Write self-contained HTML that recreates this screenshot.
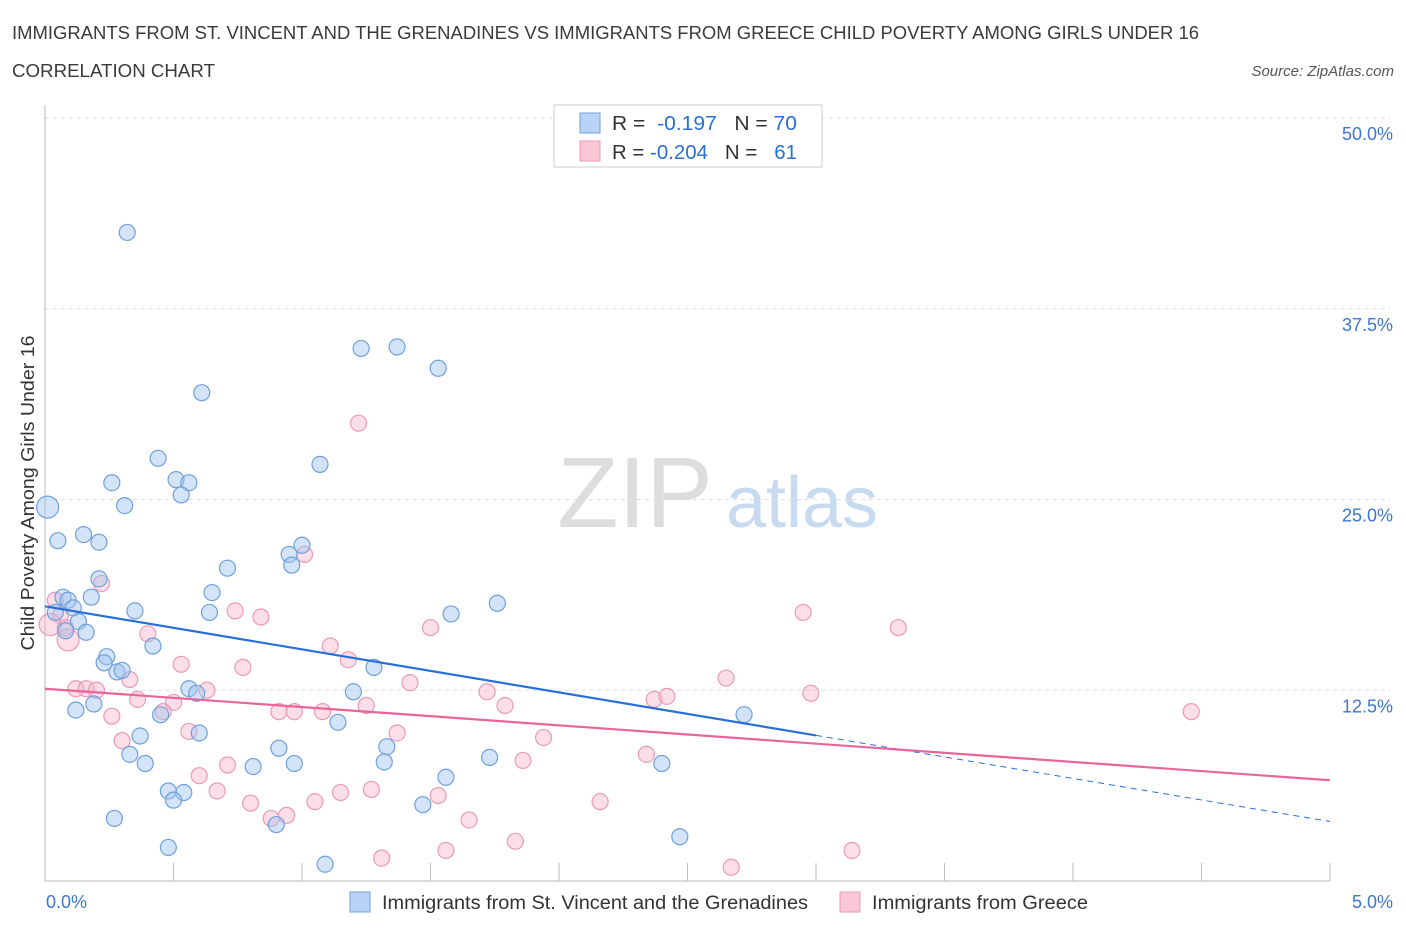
<!DOCTYPE html>
<html><head><meta charset="utf-8">
<style>
body{margin:0;background:#fff;width:1406px;height:930px;overflow:hidden;font-family:"Liberation Sans",sans-serif;}
svg text{font-family:"Liberation Sans",sans-serif;}
</style></head>
<body>
<svg id="chart" width="1406" height="930" xmlns="http://www.w3.org/2000/svg">
<text x="12" y="39" font-size="18" fill="#3a3a3a" textLength="1187" lengthAdjust="spacingAndGlyphs">IMMIGRANTS FROM ST. VINCENT AND THE GRENADINES VS IMMIGRANTS FROM GREECE CHILD POVERTY AMONG GIRLS UNDER 16</text>
<text x="12" y="77" font-size="18" fill="#3a3a3a" textLength="203" lengthAdjust="spacingAndGlyphs">CORRELATION CHART</text>
<text x="1394" y="76" font-size="15" fill="#555" text-anchor="end" font-style="italic">Source: ZipAtlas.com</text>
<text transform="translate(34,493) rotate(-90)" font-size="18" fill="#333" text-anchor="middle" textLength="315" lengthAdjust="spacingAndGlyphs">Child Poverty Among Girls Under 16</text>
<g>
<text x="635" y="527" font-size="100" fill="#ddd" text-anchor="middle" font-family="Liberation Serif">ZIP</text>
<text x="802" y="527" font-size="72" fill="#c8daf0" text-anchor="middle">atlas</text>
</g>
<g id="grid"></g><g id="axes"></g><g id="marks"></g>
<g>
<rect x="554" y="105" width="268" height="62" fill="#fff" stroke="#ccc"/>
<rect x="580" y="113" width="20" height="20" fill="#b8d3f5" stroke="#6fa0dc"/>
<rect x="580" y="141" width="20" height="20" fill="#f9c6d6" stroke="#eb9ab5"/>
<text x="612" y="130" font-size="20" fill="#333" textLength="185" lengthAdjust="spacingAndGlyphs">R = <tspan fill="#2a6fd6">&#160;-0.197</tspan>&#160;&#160;&#160;N = <tspan fill="#2a6fd6">70</tspan></text>
<text x="612" y="159" font-size="20" fill="#333" textLength="185" lengthAdjust="spacingAndGlyphs">R = <tspan fill="#2a6fd6">-0.204</tspan>&#160;&#160;&#160;N = <tspan fill="#2a6fd6">&#160;&#160;61</tspan></text>
</g>
<g>
<rect x="350" y="892" width="20" height="20" fill="#b8d3f5" stroke="#6fa0dc"/>
<text x="382" y="909" font-size="19" fill="#333" textLength="426" lengthAdjust="spacingAndGlyphs">Immigrants from St. Vincent and the Grenadines</text>
<rect x="840" y="892" width="20" height="20" fill="#f9c6d6" stroke="#eb9ab5"/>
<text x="872" y="909" font-size="19" fill="#333" textLength="216" lengthAdjust="spacingAndGlyphs">Immigrants from Greece</text>
</g>
</svg>
<script>
const yTicks=[12.5,25.0,37.5,50.0];
const xTickLabels=["0.0%","5.0%"];
const blueX=[0.32,1.23,1.37,1.53,0.61,1.07,0.44,0.26,0.51,0.56,0.53,0.31,0.01,0.15,0.05,0.21,1.00,0.95,0.96,0.71,0.21,0.65,0.07,0.18,0.09,0.11,0.04,0.35,0.64,1.58,1.76,0.13,0.08,0.16,0.42,0.24,1.28,0.23,0.28,0.30,1.20,0.56,0.59,0.12,0.19,0.45,1.14,2.72,0.37,0.60,0.33,0.91,1.33,0.39,0.81,0.97,1.32,1.73,2.40,1.56,0.48,0.54,0.50,1.47,0.27,0.90,2.47,0.48,1.09];
const blueY=[42.5,34.9,35.0,33.6,32.0,27.3,27.7,26.1,26.3,26.1,25.3,24.6,24.5,22.7,22.3,22.2,22.0,21.4,20.7,20.5,19.8,18.9,18.6,18.6,18.4,17.9,17.6,17.7,17.6,17.5,18.2,17.0,16.4,16.3,15.4,14.7,14.0,14.3,13.7,13.8,12.4,12.6,12.3,11.2,11.6,10.9,10.4,10.9,9.5,9.7,8.3,8.7,8.8,7.7,7.5,7.7,7.8,8.1,7.7,6.8,5.9,5.8,5.3,5.0,4.1,3.7,2.9,2.2,1.1];
const pinkX=[1.22,0.22,1.01,0.04,0.06,0.02,0.09,0.08,0.74,0.84,0.40,1.50,2.95,3.32,1.11,1.18,0.53,0.77,0.33,0.12,0.16,0.20,0.63,1.42,1.72,0.36,0.50,1.25,1.79,2.37,2.42,2.65,2.98,4.46,0.91,0.97,1.08,0.46,0.26,0.56,1.37,0.30,1.94,2.34,1.86,0.71,0.60,0.67,1.15,1.27,1.53,0.80,1.05,2.16,0.88,0.94,1.65,1.83,1.56,3.14,1.31,2.67];
const pinkY=[30.0,19.5,21.4,18.4,17.4,16.8,15.8,16.6,17.7,17.3,16.2,16.6,17.6,16.6,15.4,14.5,14.2,14.0,13.2,12.6,12.6,12.5,12.5,13.0,12.4,11.9,11.7,11.5,11.5,11.9,12.1,13.3,12.3,11.1,11.1,11.1,11.1,11.1,10.8,9.8,9.7,9.2,9.4,8.3,7.9,7.6,6.9,5.9,5.8,6.0,5.6,5.1,5.2,5.2,4.1,4.3,4.0,2.6,2.0,2.0,1.5,0.9];
const blueTrend=[18.0,3.9];
const pinkTrend=[12.6,6.6];
const blueSolidEnd=3.0;

const NS="http://www.w3.org/2000/svg";
const X0=45,X1=1330,Y0=881,Y50=118;
const sx=v=>X0+(X1-X0)*v/5;
const sy=v=>Y0-(Y0-Y50)*v/50;
function mk(tag,attrs,parent){const e=document.createElementNS(NS,tag);for(const k in attrs)e.setAttribute(k,attrs[k]);parent.appendChild(e);return e;}
const grid=document.getElementById('grid'),axes=document.getElementById('axes'),marks=document.getElementById('marks');
yTicks.forEach(t=>{
  const l=mk('line',{x1:X0,x2:X1+60,y1:sy(t),y2:sy(t),stroke:'#ddd','stroke-dasharray':'4,4'},grid);
  
  
  const tx=mk('text',{x:1393,y:sy(t)+22,'font-size':18,fill:'#3d76d0','text-anchor':'end'},axes);
  tx.textContent=t.toFixed(1)+'%';
  
  
});
const ya=mk('line',{x1:X0,x2:X0,y1:105,y2:Y0,stroke:'#bbb'},axes);


const xa=mk('line',{x1:X0,x2:X1,y1:Y0,y2:Y0,stroke:'#bbb'},axes);


for(let i=0;i<=10;i++){
  const tk=mk('line',{x1:sx(i*0.5),x2:sx(i*0.5),y1:Y0-18,y2:Y0,stroke:'#bbb'},axes);
  
  
}
[[0,'start',46],[1,'end',1393]].forEach(([i,a,x])=>{
  const t=mk('text',{x:x,y:908,'font-size':18,fill:'#3d76d0','text-anchor':a},axes);
  t.textContent=xTickLabels[i];
  
  
});
function pts(xs,ys,fill,stroke,name,big){
  xs.forEach((x,i)=>{
    const r=(big.indexOf(i)>=0)?11:8;
    const c=mk('circle',{cx:sx(x),cy:sy(ys[i]),r:r,fill:fill,stroke:stroke,'stroke-width':1.2},marks);
    
    
  });
}
pts(pinkX,pinkY,'rgba(246,172,198,0.4)','#eb9ab5','greece-point',[5,6]);
pts(blueX,blueY,'rgba(160,196,240,0.45)','#6fa0dc','st-vincent-point',[12]);
const by=x=>blueTrend[0]+(blueTrend[1]-blueTrend[0])*x/5;
const b1=mk('line',{x1:sx(0),y1:sy(by(0)),x2:sx(blueSolidEnd),y2:sy(by(blueSolidEnd)),stroke:'#2a6fd6','stroke-width':2.2},marks);


const b2=mk('line',{x1:sx(blueSolidEnd),y1:sy(by(blueSolidEnd)),x2:sx(5),y2:sy(by(5)),stroke:'#2a6fd6','stroke-width':1,'stroke-dasharray':'6,5'},marks);


const p1=mk('line',{x1:sx(0),y1:sy(pinkTrend[0]),x2:sx(5),y2:sy(pinkTrend[1]),stroke:'#e8659a','stroke-width':2.2},marks);


</script>
</body></html>
